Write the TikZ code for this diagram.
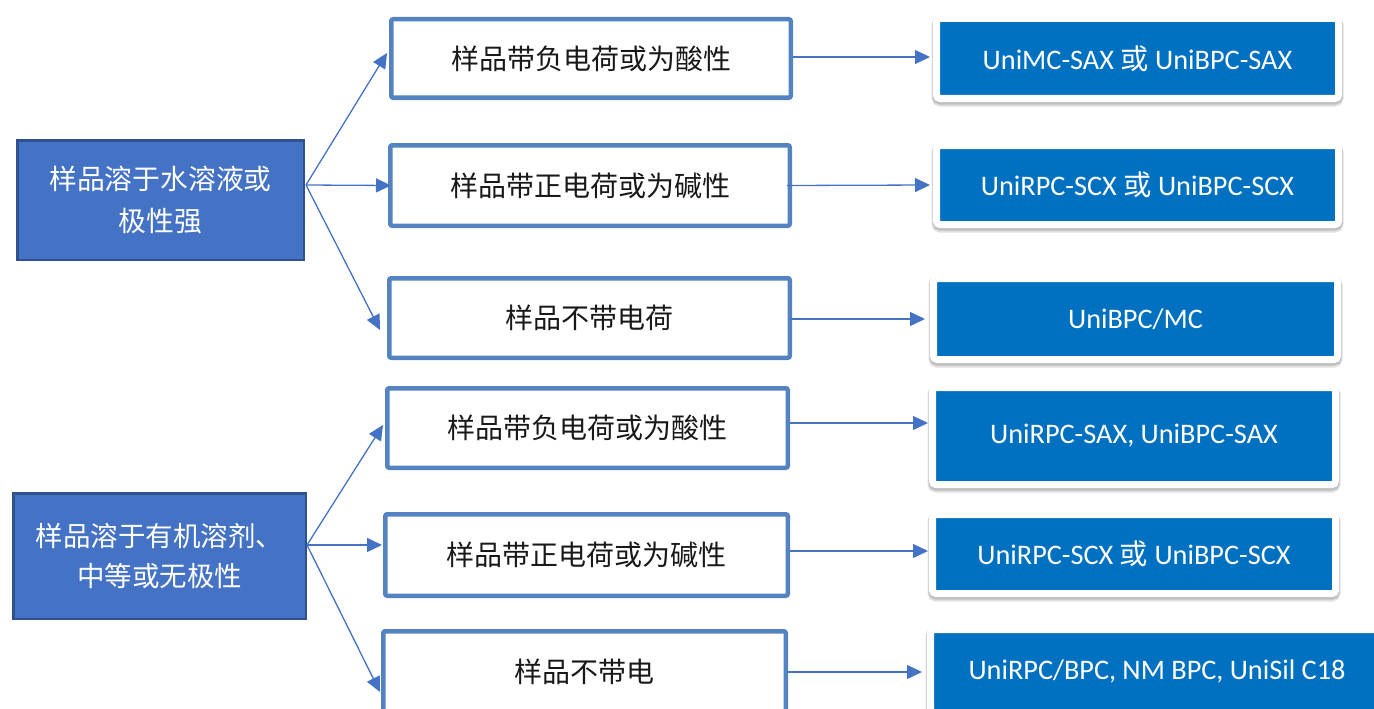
\documentclass[tikz,border=0pt]{standalone}
\usepackage{fontspec}
\setmainfont{Carlito}
\newfontfamily\cjk{Noto Sans CJK SC}
\usetikzlibrary{arrows.meta,calc}
\definecolor{lfill}{HTML}{4472C4}
\definecolor{ldraw}{HTML}{2F528F}
\definecolor{mdraw}{HTML}{5483C2}
\definecolor{rfill}{HTML}{0070C0}
\definecolor{arr}{HTML}{4472C4}
\begin{document}
\begin{tikzpicture}[x=1pt,y=-1pt,
  lbox/.style={draw=ldraw, fill=lfill, line width=2.5pt, text=white, align=center, inner sep=0pt},
  mbox/.style={draw=mdraw, fill=white, line width=4.5pt, rounded corners=2pt, text=black!90,
    font=\cjk\fontsize{28}{33}\selectfont, inner sep=0pt},
  rbox/.style={fill=rfill, draw=white, line width=7pt, rounded corners=3.5pt, text=white,
    font=\fontsize{28.3}{33}\selectfont, inner sep=0pt,
    preaction={draw=black, line width=10pt, opacity=0.12, transform canvas={yshift=-3pt}},
    preaction={draw=black, line width=8pt, opacity=0.15, transform canvas={yshift=-2pt}}},
  conn/.style={draw=arr, line width=1.3pt, -{Triangle[length=15pt,width=14pt]}}]
\useasboundingbox (0,0) rectangle (1374,709);
\clip (0,0) rectangle (1374,709);

% left boxes
\node[lbox, minimum width=286.5, minimum height=119.5, font=\cjk\fontsize{27.8}{42}\selectfont] (l1) at (160.5,200) {样品溶于水溶液或\\极性强};
\node[lbox, minimum width=292.5, minimum height=125.5, font=\cjk\fontsize{27.5}{40}\selectfont] (l2) at (159.5,556) {样品溶于有机溶剂、\\中等或无极性};

% middle boxes
\node[mbox, minimum width=399.5, minimum height=78.5] (m1) at (591,58.5) {样品带负电荷或为酸性};
\node[mbox, minimum width=399.5, minimum height=80.5] (m2) at (590,185.5) {样品带正电荷或为碱性};
\node[mbox, minimum width=400.5, minimum height=79.5] (m3) at (589.5,318) {样品不带电荷};
\node[mbox, minimum width=400.5, minimum height=79.5] (m4) at (587.5,428) {样品带负电荷或为酸性};
\node[mbox, minimum width=402.5, minimum height=81.5] (m5) at (586.5,555) {样品带正电荷或为碱性};
\node[mbox, minimum width=402.5, minimum height=81.5] (m6) at (584.5,672) {样品不带电};

% right boxes
\node[rbox, minimum width=402, minimum height=80] (r1) at (1137.5,58.5) {\raisebox{-1.5pt}{UniMC-SAX {\cjk 或} UniBPC-SAX}};
\node[rbox, minimum width=402, minimum height=79] (r2) at (1137.5,185) {UniRPC-SCX {\cjk 或} UniBPC-SCX};
\node[rbox, minimum width=404, minimum height=81] (r3) at (1135.5,319) {UniBPC/MC};
\node[rbox, minimum width=403, minimum height=97] (r4) at (1134,436) {UniRPC-SAX, UniBPC-SAX};
\node[rbox, minimum width=403, minimum height=79] (r5) at (1134,554) {UniRPC-SCX {\cjk 或} UniBPC-SCX};
\node[rbox, minimum width=453, minimum height=83] (r6) at (1157,671) {UniRPC/BPC, NM BPC, UniSil C18};

% fan-out origins
\coordinate (o1) at ($(l1.east)+(1,-15)$);
\coordinate (o2) at ($(l2.east)+(0,-11)$);

% fan-out connectors
\draw[conn] (o1) -- ([shift={(-2,-5.5)}]m1.west);
\draw[conn] (o1) -- ([shift={(3,0)}]m2.west);
\draw[conn] (o1) -- ([shift={(-7,12)}]m3.west);
\draw[conn] (o2) -- ([shift={(-2,-3)}]m4.west);
\draw[conn] (o2) -- ([shift={(-1,-10)}]m5.west);
\draw[conn] (o2) -- ([shift={(-1,20)}]m6.west);

% to results
\draw[conn] ([shift={(0,-1.5)}]m1.east) -- ([shift={(-3,-1.5)}]r1.west);
\draw[conn] ([shift={(-5,0)}]m2.east) -- ([shift={(-3,0)}]r2.west);
\draw[conn] ([shift={(-1,1)}]m3.east) -- ([shift={(-5,0)}]r3.west);
\draw[conn] ([shift={(0,-5)}]m4.east) -- ([shift={(-1,-13)}]r4.west);
\draw[conn] ([shift={(0,-4)}]m5.east) -- ([shift={(-1,-3)}]r5.west);
\draw[conn] ([shift={(0,0)}]m6.east) -- ([shift={(-5,1)}]r6.west);
\end{tikzpicture}
\end{document}
